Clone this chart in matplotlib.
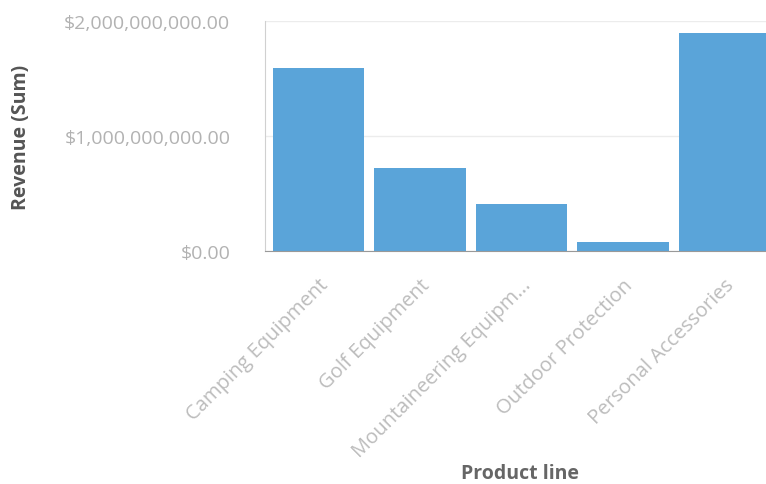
import matplotlib.pyplot as plt
from matplotlib.ticker import FuncFormatter

categories = ["Camping Equipment", "Golf Equipment", "Mountaineering Equipm...",
              "Outdoor Protection", "Personal Accessories"]
revenue = [1590000000, 722000000, 409000000, 78000000, 1896000000]
y_ticks = [0, 1000000000, 2000000000]

plt.rcParams['font.family'] = ['Open Sans', 'DejaVu Sans']

fig = plt.figure(figsize=(7.66, 4.85), dpi=100)
# axes run off the right edge like the screenshot
ax = fig.add_axes([265 / 766, 1 - 252 / 485, 513 / 766, 230 / 485])

x = range(len(categories))
ax.bar(x, revenue, width=0.9, color='#5aa4d9', zorder=2)
ax.set_xlim(-0.53, len(categories) - 0.47)
ax.set_ylim(0, 2000000000)

ax.set_yticks(y_ticks)
ax.yaxis.set_major_formatter(FuncFormatter(lambda v, p: "${:,.2f}".format(v)))
ax.tick_params(axis='y', length=0, pad=25, labelsize=14, labelcolor='#b2b2b2')
ax.grid(axis='y', color='#ececec', linewidth=1, zorder=0)

ax.set_xticks(list(x))
ax.set_xticklabels(categories, rotation=45, ha='right', rotation_mode='anchor',
                   fontsize=14.5, color='#bcbcbc')
ax.tick_params(axis='x', length=0, pad=17)

for s in ['top', 'right']:
    ax.spines[s].set_visible(False)
ax.spines['left'].set_color('#d0d0d0')
ax.spines['bottom'].set_color('#999999')

ax.set_ylabel("Revenue (Sum)", fontsize=14, fontweight='bold', color='#555555')
ax.yaxis.set_label_coords(-0.456, 0.5)
ax.set_xlabel("Product line", fontsize=14, fontweight='bold', color='#666666')
ax.xaxis.set_label_coords(0.497, -0.92)

fig.savefig("out.png", dpi=100)
